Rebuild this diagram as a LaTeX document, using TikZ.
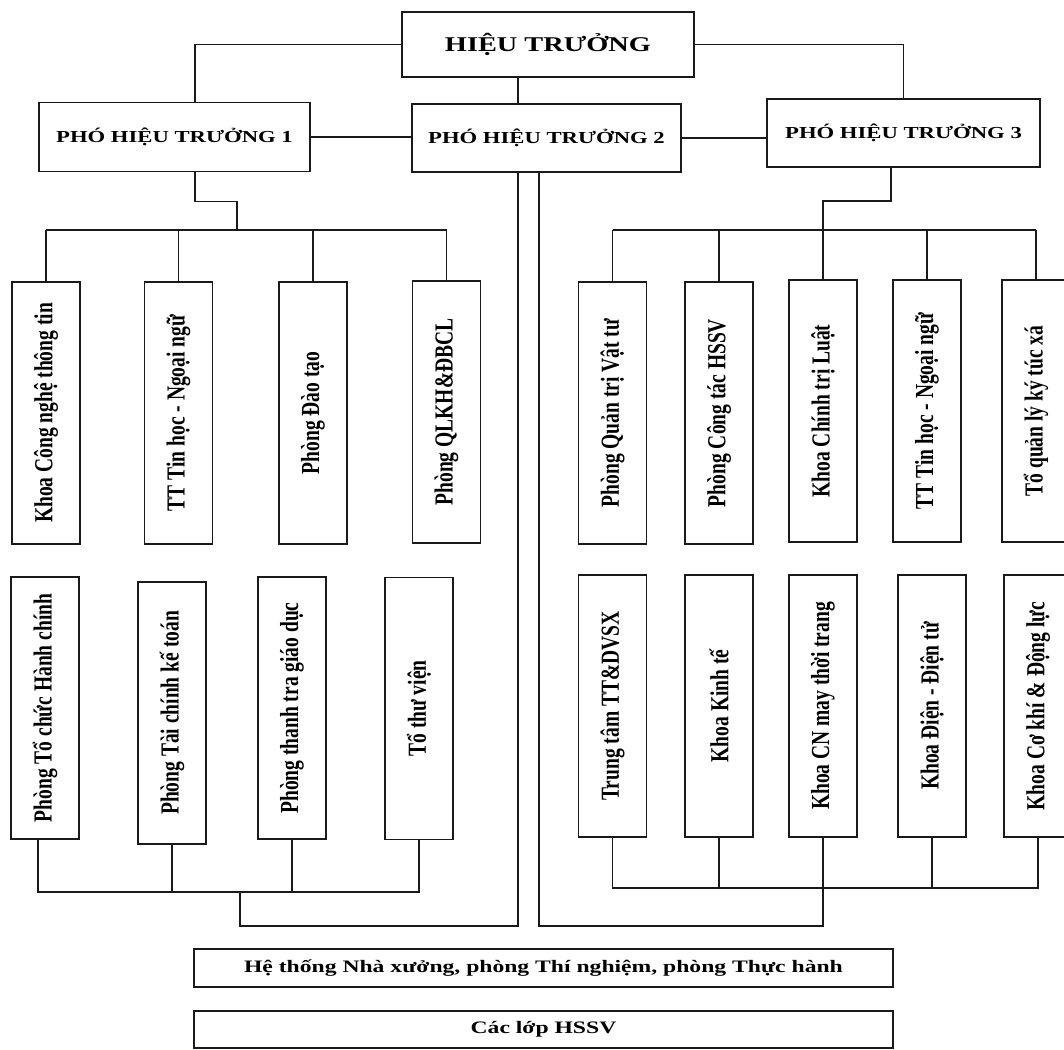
\documentclass[tikz,border=0pt]{standalone}
\usepackage{fontspec}
\usepackage{graphicx}
\usepackage{tikz}
\usetikzlibrary{positioning,calc}
\setmainfont{Liberation Serif}
\newfontfamily\hfont[FakeStretch=1.35]{Liberation Serif}
\newfontfamily\vfont[FakeStretch=0.75]{Liberation Serif}
\definecolor{orgLine}{HTML}{1A1A1A}
\tikzset{
  orgnode/.style={
    draw=orgLine, line width=1.7pt, inner sep=0pt, align=center, text=black
  },
  headbox/.style={orgnode, minimum width=292pt, minimum height=65pt,
    font=\hfont\bfseries\fontsize{21}{24}\selectfont},
  vicebox/.style={orgnode, minimum width=271pt, minimum height=69pt,
    font=\hfont\bfseries\fontsize{16.8}{20}\selectfont},
  unitbox/.style={orgnode, minimum width=68pt, minimum height=262pt,
    font=\vfont\bfseries\fontsize{26}{28}\selectfont},
  basebox/.style={orgnode, minimum width=699pt, minimum height=38pt,
    font=\hfont\bfseries\fontsize{17.5}{20}\selectfont},
  link/.style={draw=orgLine, line width=1.7pt}
}

\begin{document}
\begin{tikzpicture}[x=1pt, y=-1pt]
  \useasboundingbox (0,0) rectangle (1064,1049);
  \clip (0,0) rectangle (1064,1049);

  % leadership
  \node[headbox] (ht) at (548,44.5) {HIỆU TRƯỞNG};
  \node[vicebox] (pht1) at (174.5,137) {PHÓ HIỆU TRƯỞNG 1};
  \node[vicebox, minimum width=269pt, minimum height=68pt] (pht2) at (546.5,138) {PHÓ HIỆU TRƯỞNG 2};
  \node[vicebox, minimum width=273pt, minimum height=68pt] (pht3) at (903.5,133) {PHÓ HIỆU TRƯỞNG 3};

  % units
  \foreach \n/\x/\y/\t in {
    l1/46/413/{Khoa Công nghệ thông tin},
    l2/178.5/413/{TT Tin học - Ngoại ngữ},
    l3/313/413/{Phòng Đào tạo},
    l4/446.5/412/{Phòng QLKH\&ĐBCL},
    lb1/45/708/{Phòng Tổ chức  Hành chính},
    lb2/172/713/{Phòng Tài chính kế toán},
    lb3/292/708/{Phòng thanh tra giáo dục},
    lb4/419/708.5/{Tổ thư viện},
    r1/612.5/413/{Phòng Quản trị Vật tư},
    r2/719/413/{Phòng Công tác HSSV},
    r3/823/411/{Khoa Chính trị Luật},
    r4/927/411/{TT Tin học - Ngoại ngữ},
    r5/1036/411/{Tổ quản lý ký túc xá},
    rb1/612.5/706/{Trung tâm TT\&DVSX},
    rb2/719/706/{Khoa Kinh tế},
    rb3/823/706/{Khoa CN may thời trang},
    rb4/932/706/{Khoa Điện - Điện tử},
    rb5/1038/706/{Khoa Cơ khí \& Động lực}}{
    \node[unitbox] (\n) at (\x,\y) {\rotatebox{90}{\t}};
  }

  \node[basebox] (sys) at (543.5,968) {Hệ thống Nhà  xưởng, phòng  Thí nghiệm, phòng  Thực  hành};
  \node[basebox, minimum height=37pt] (lop) at (543.5,1029.5) {Các lớp HSSV};

  % junctions
  \coordinate (lv) at (518,0);
  \coordinate (rv) at (539,0);
  \coordinate (lbus) at (237,230);
  \coordinate (rbus) at (823,230);
  \coordinate (lbot) at (240,892);
  \coordinate (rbot) at (823,888);

  % connectors
  \draw[link] (ht.west) -| ([xshift=20.5pt]pht1.north);
  \draw[link] (ht.east) -| (pht3.north);
  \draw[link] (ht.south -| lv) -- (pht2.north -| lv);
  \draw[link] (pht1.east) -- (pht1.east -| pht2.west);
  \draw[link] (pht2.east) -- (pht2.east -| pht3.west);

  \draw[link] ([xshift=20.5pt]pht1.south) -- ++(0,29) -| (lbus);
  \draw[link] (l1.north |- lbus) -- (l4.north |- lbus);
  \foreach \i in {1,...,4}
    \draw[link] (l\i.north) -- (l\i.north |- lbus);

  \draw[link] ([xshift=-12.5pt]pht3.south) -- ++(0,33) -| (rbus);
  \draw[link] (r1.north |- rbus) -- (r5.north |- rbus);
  \foreach \i in {1,...,5}
    \draw[link] (r\i.north) -- (r\i.north |- rbus);

  \draw[link] ([xshift=-7pt]lb1.south) |- (lb4.south |- lbot) -- (lb4.south);
  \foreach \i in {2,3}
    \draw[link] (lb\i.south) -- (lb\i.south |- lbot);
  \draw[link] (lbot) -- ++(0,34) -| (pht2.south -| lv);

  \draw[link] (rb1.south) |- (rb5.south |- rbot) -- (rb5.south);
  \foreach \i in {2,4}
    \draw[link] (rb\i.south) -- (rb\i.south |- rbot);
  \draw[link] (rb3.south) -- (rbot) -- ++(0,38) -| (pht2.south -| rv);
\end{tikzpicture}
\end{document}
